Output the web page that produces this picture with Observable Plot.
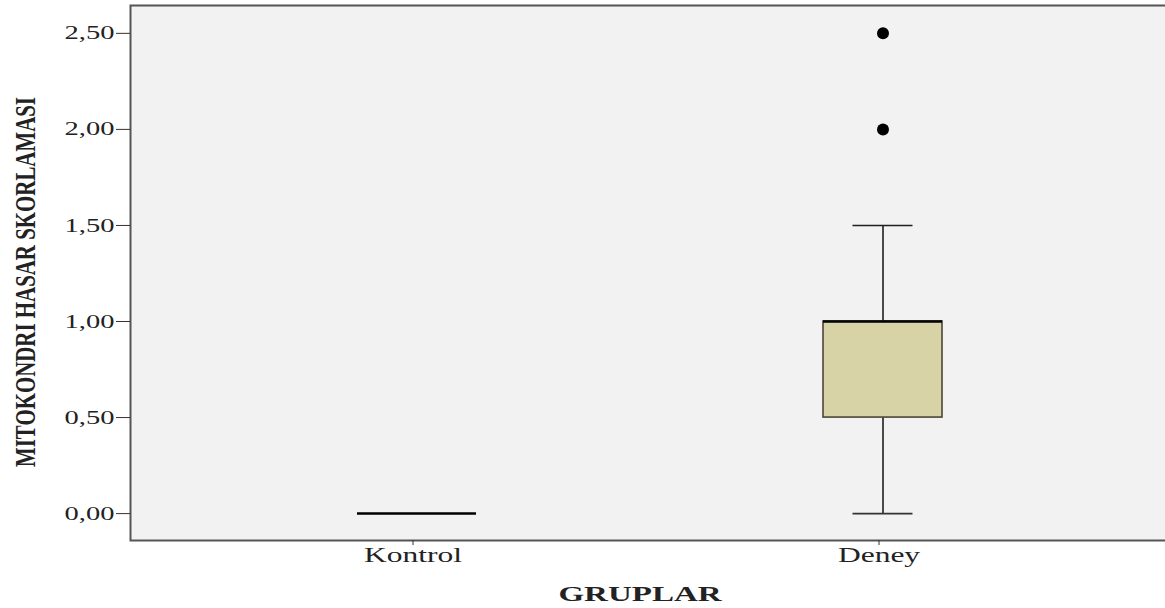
<!DOCTYPE html>
<html>
<head>
<meta charset="utf-8">
<script src="https://cdn.jsdelivr.net/npm/d3@7"></script>
<script src="https://cdn.jsdelivr.net/npm/@observablehq/plot@0.6"></script>
<style>
  html, body { margin: 0; padding: 0; background: #ffffff; }
  #chart { width: 1165px; height: 608px; overflow: hidden; }
</style>
</head>
<body>
<div id="chart"></div>
<script>
// ---- data ----
const groups = ["Kontrol", "Deney"];
const q1 = [0, 0.5];
const median = [0, 1.0];
const q3 = [0, 1.0];
const whiskerLow = [0, 0];
const whiskerHigh = [0, 1.5];
const outlierGroup = ["Deney", "Deney"];
const outlierValue = [2.0, 2.5];
const yTicks = [0, 0.5, 1.0, 1.5, 2.0, 2.5];
const yTickLabels = ["0,00", "0,50", "1,00", "1,50", "2,00", "2,50"];
const xTitle = "GRUPLAR";
const yTitle = "MITOKONDRI HASAR SKORLAMASI";

const boxes = groups.map((g, i) => ({
  group: g, q1: q1[i], median: median[i], q3: q3[i], lo: whiskerLow[i], hi: whiskerHigh[i]
}));
const whiskerBoxes = boxes.filter(d => d.hi > d.lo);
const outliers = outlierGroup.map((g, i) => ({ group: g, value: outlierValue[i] }));

const font = "'Liberation Serif', 'Times New Roman', serif";

const chart = Plot.plot({
  width: 1165,
  height: 608,
  marginLeft: 130,
  marginRight: -4,
  marginTop: 5,
  marginBottom: 68,
  style: { fontFamily: font, background: "#ffffff", color: "#222" },
  x: {
    type: "band",
    domain: groups,
    range: [356.5, 942.5],
    paddingInner: 0.745,
    paddingOuter: 0,
    align: 0.5
  },
  y: { domain: [-0.14, 2.645] },
  marks: [
    Plot.frame({ fill: "#f2f2f2", stroke: null }),
    // whiskers
    Plot.ruleX(whiskerBoxes, { x: "group", y1: "lo", y2: "q1", stroke: "#1e1e1e", strokeWidth: 1.6 }),
    Plot.ruleX(whiskerBoxes, { x: "group", y1: "q3", y2: "hi", stroke: "#1e1e1e", strokeWidth: 1.6 }),
    Plot.tickY(whiskerBoxes, { x: "group", y: "lo", stroke: "#333", strokeWidth: 1.6, insetLeft: 29.5, insetRight: 29.5 }),
    Plot.tickY(whiskerBoxes, { x: "group", y: "hi", stroke: "#1e1e1e", strokeWidth: 1.6, insetLeft: 29.5, insetRight: 29.5 }),
    // boxes
    Plot.barY(whiskerBoxes, { x: "group", y1: "q1", y2: "q3", fill: "#d8d3a6", stroke: "#4a4636", strokeWidth: 1.6 }),
    // medians
    Plot.tickY(boxes, { x: "group", y: "median", stroke: "#000", strokeWidth: 2.5 }),
    // outliers
    Plot.dot(outliers, { x: "group", y: "value", r: 6, fill: "#000", stroke: null }),
    // frame
    Plot.frame({ stroke: "#555", strokeWidth: 2 }),
    Plot.axisY({
      ticks: yTicks,
      tickFormat: d => yTickLabels[yTicks.indexOf(d)],
      tickSize: 14,
      tickPadding: 2,
      stroke: "#333",
      fontSize: 19,
      label: yTitle,
      labelAnchor: "center",
      labelArrow: "none",
      labelOffset: 117
    }),
    Plot.axisX({
      tickSize: 5,
      tickPadding: 2,
      stroke: "#333",
      fontSize: 21,
      dx: -4,
      label: xTitle,
      labelAnchor: "center",
      labelArrow: "none",
      labelOffset: 60
    })
  ]
});

document.getElementById("chart").append(chart);

// Shift a text element by (sx, sy) in screen pixels, whatever its rotation.
function shiftText(t, sx, sy) {
  const m = t.getCTM();
  if (!m) return;
  const det = m.a * m.d - m.b * m.c;
  // invert the linear part to get local offsets
  const lx = (m.d * sx - m.c * sy) / det;
  const ly = (-m.b * sx + m.a * sy) / det;
  const prev = t.getAttribute("transform") || "";
  t.setAttribute("transform", (prev + ` translate(${lx.toFixed(2)},${ly.toFixed(2)})`).trim());
}

// The reference is horizontally stretched; widen the glyphs of horizontal text.
const stretch = 1.5;
chart.querySelectorAll("text").forEach(t => {
  const txt = t.textContent.trim();
  if (txt === yTitle) {
    t.style.fontSize = "30px";
    t.style.fontWeight = "bold";
    t.setAttribute("textLength", 370);
    t.setAttribute("lengthAdjust", "spacingAndGlyphs");
    shiftText(t, 0, 9);
    return;
  }
  if (txt === xTitle) {
    t.style.fontSize = "22px";
    t.style.fontWeight = "bold";
  }
  const len = t.getComputedTextLength();
  if (len > 0) {
    t.setAttribute("textLength", (len * stretch).toFixed(1));
    t.setAttribute("lengthAdjust", "spacingAndGlyphs");
  }
  if (txt === xTitle) shiftText(t, -10, 0);
});
</script>
</body>
</html>
